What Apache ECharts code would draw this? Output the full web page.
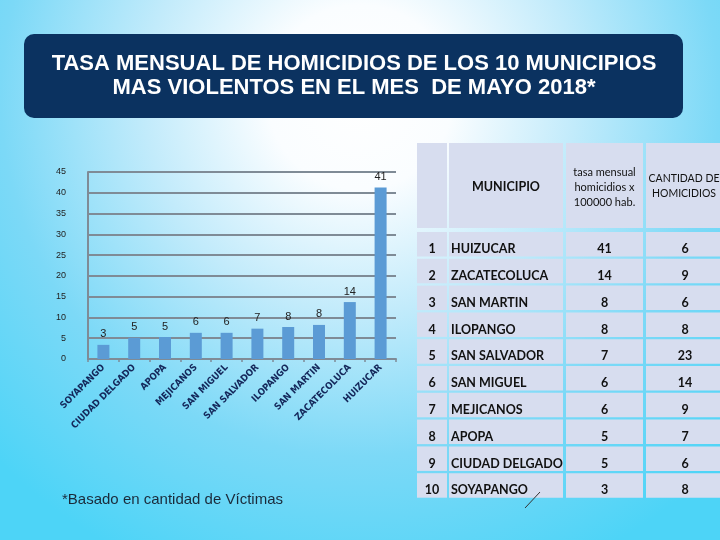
<!DOCTYPE html>
<html><head><meta charset="utf-8">
<script src="https://cdn.jsdelivr.net/npm/echarts@6/dist/echarts.min.js"></script>
<style>html,body{margin:0;padding:0;}#c{width:720px;height:540px;}</style>
</head><body><div id="c"></div>
<script>
// ---- data ----
const titleLines = ['TASA MENSUAL DE HOMICIDIOS DE LOS 10 MUNICIPIOS', 'MAS VIOLENTOS EN EL MES  DE MAYO 2018*'];
const categories = ['SOYAPANGO','CIUDAD DELGADO','APOPA','MEJICANOS','SAN MIGUEL','SAN SALVADOR','ILOPANGO','SAN MARTIN','ZACATECOLUCA','HUIZUCAR'];
const barValues = [3.4, 5.1, 5.3, 6.3, 6.3, 7.3, 7.7, 8.2, 13.7, 41.3];
const barLabels = ['3','5','5','6','6','7','8','8','14','41'];
const yTicks = [0,5,10,15,20,25,30,35,40,45];
const tableHeader = ['', 'MUNICIPIO', 'tasa mensual\nhomicidios x\n100000 hab.', 'CANTIDAD DE\nHOMICIDIOS'];
const ranks = ['1','2','3','4','5','6','7','8','9','10'];
const municipios = ['HUIZUCAR','ZACATECOLUCA','SAN MARTIN','ILOPANGO','SAN SALVADOR','SAN MIGUEL','MEJICANOS','APOPA','CIUDAD DELGADO','SOYAPANGO'];
const tasas = ['41','14','8','8','7','6','6','5','5','3'];
const cantidades = ['6','9','6','8','23','14','9','7','6','8'];
const footnote = '*Basado en cantidad de Víctimas';

// ---- layout ----
const chart = echarts.init(document.getElementById('c'));
const colX = [417, 449, 566, 646];
const colW = [30, 114, 77, 74];
const headTop = 143, headH = 85, rowTop = 232, rowH = 24.5, rowPitch = 26.8;
const cellFill = '#d7ddef';
const g = [];
g.push({type:'rect', z:-10, silent:true, shape:{x:0,y:0,width:720,height:540},
  style:{fill:{type:'radial', x:0.5, y:0.18, r:0.95, colorStops:[
    {offset:0,color:'#ffffff'},{offset:0.18,color:'#fafdff'},{offset:0.42,color:'#c2ebfb'},{offset:0.7,color:'#7cd9f7'},{offset:1,color:'#4dd4f7'}]}}});
g.push({type:'rect', shape:{x:24,y:34,width:659,height:84,r:10}, style:{fill:'#0b3260'}});
titleLines.forEach((t,i)=>g.push({type:'text', x:354, y:64+i*24, style:{text:t, fill:'#ffffff', font:'bold 22px "Liberation Sans", Arial', align:'center', verticalAlign:'middle'}}));
// table header
for (let c=0;c<4;c++){
  g.push({type:'rect', shape:{x:colX[c], y:headTop, width:colW[c], height:headH}, style:{fill:cellFill}});
}
g.push({type:'text', x:colX[1]+colW[1]/2, y:187, style:{text:tableHeader[1], fill:'#111', font:'bold 12.5px Lato', align:'center', verticalAlign:'middle'}});
g.push({type:'text', x:colX[2]+colW[2]/2, y:187, style:{text:tableHeader[2], fill:'#111', font:'11px Lato', align:'center', verticalAlign:'middle', lineHeight:15}});
g.push({type:'text', x:colX[3]+colW[3]/2+1, y:186, style:{text:tableHeader[3], fill:'#111', font:'10.5px Lato', align:'center', verticalAlign:'middle', lineHeight:15}});
// table rows
ranks.forEach((r,i)=>{
  const y = rowTop + i*rowPitch;
  for (let c=0;c<4;c++) g.push({type:'rect', shape:{x:colX[c], y:y, width:colW[c], height:rowH}, style:{fill:cellFill}});
  const cy = y + rowH/2 + 5;
  const f = 'bold 12.5px Lato';
  g.push({type:'text', x:colX[0]+colW[0]/2, y:cy, style:{text:r, fill:'#111', font:f, align:'center', verticalAlign:'middle'}});
  g.push({type:'text', x:colX[1]+2, y:cy, style:{text:municipios[i], fill:'#111', font:f, align:'left', verticalAlign:'middle'}});
  g.push({type:'text', x:colX[2]+colW[2]/2, y:cy, style:{text:tasas[i], fill:'#111', font:f, align:'center', verticalAlign:'middle'}});
  g.push({type:'text', x:colX[3]+colW[3]/2+2, y:cy, style:{text:cantidades[i], fill:'#111', font:f, align:'center', verticalAlign:'middle'}});
});
g.push({type:'text', x:62, y:500, style:{text:footnote, fill:'#1a2a3a', font:'15px "Liberation Sans", Arial', align:'left', verticalAlign:'middle'}});
g.push({type:'line', shape:{x1:540,y1:492,x2:525,y2:508}, style:{stroke:'#333', lineWidth:1}});

chart.setOption({
  animation:false,
  graphic: g,
  grid:{left:88, right:324, top:172, bottom:181, containLabel:false},
  xAxis:{type:'category', data:categories,
    axisLine:{lineStyle:{color:'#7f8b96', width:2}},
    axisTick:{show:true, length:3, lineStyle:{color:'#7f8b96', width:1.5}},
    axisLabel:{rotate:45, interval:0, fontSize:9.5, fontWeight:'bold', color:'#14275a', margin:7, fontFamily:'"DejaVu Sans Condensed", "Liberation Sans Narrow", sans-serif'}},
  yAxis:{type:'value', min:0, max:45, interval:5,
    axisLine:{show:true, lineStyle:{color:'#7f8b96', width:2}},
    axisTick:{show:false},
    axisLabel:{fontSize:9, color:'#222', margin:22, formatter:v=>yTicks.includes(v)?String(v):''},
    splitLine:{lineStyle:{color:'#7f8b96', width:2}}},
  series:[{type:'bar', data:barValues, barWidth:12, itemStyle:{color:'#5b9bd5'},
    label:{show:true, position:'top', color:'#222', fontSize:11, distance:5, formatter:p=>barLabels[p.dataIndex]}}]
});
</script></body></html>
